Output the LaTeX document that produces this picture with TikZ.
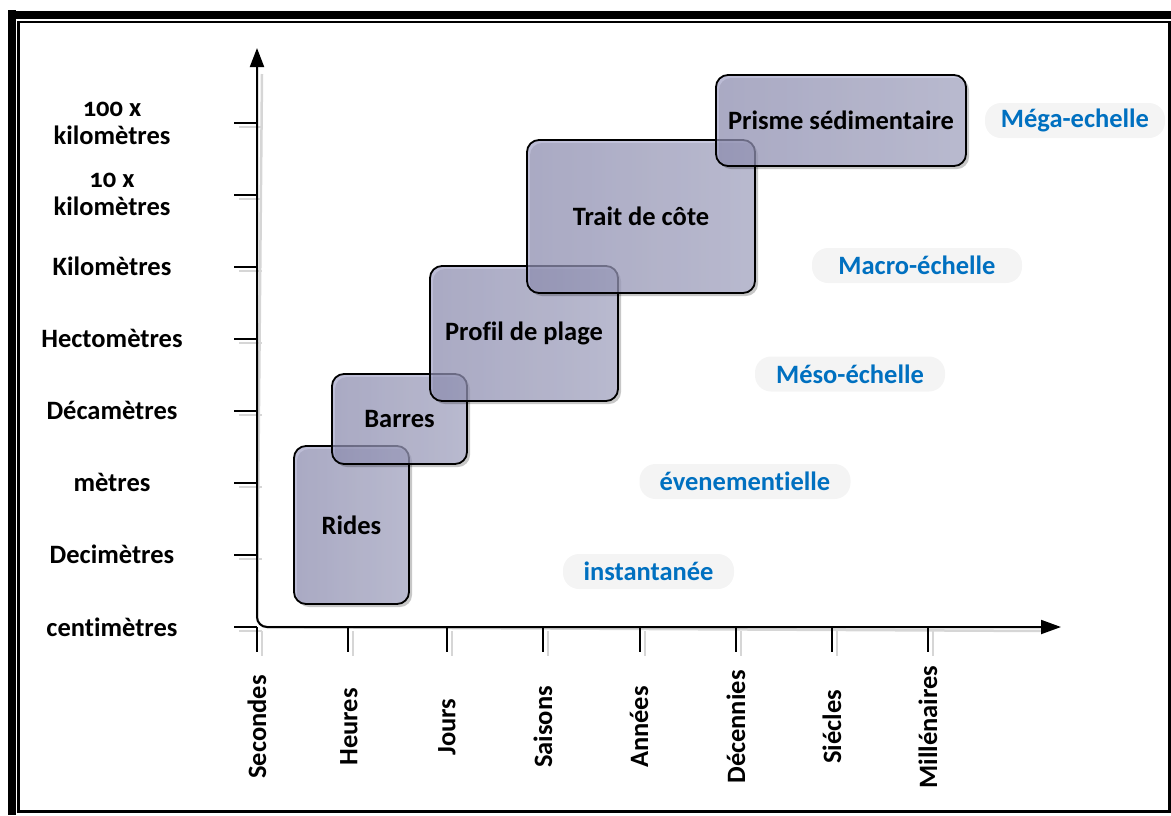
\documentclass[tikz,border=0pt]{standalone}
\usepackage{fontspec}
\setmainfont{Carlito}[Ligatures=NoCommon]
\usetikzlibrary{arrows.meta,shadows}
\definecolor{boxA}{RGB}{156,156,194}
\definecolor{boxB}{RGB}{178,179,210}
\definecolor{scaleblue}{RGB}{0,112,192}
\definecolor{pillgray}{RGB}{244,244,244}
\definecolor{shadowgray}{RGB}{214,214,214}
\begin{document}
\begin{tikzpicture}[x=1pt,y=-1pt,
  every node/.style={font=\fontsize{26.5}{28}\selectfont\bfseries},
  ylab/.style={align=center, inner sep=0pt},
  xlab/.style={rotate=90, inner sep=0pt},
  axisline/.style={line width=2pt, black},
  axisshadow/.style={line width=2.5pt, shadowgray},
  scalebox/.style={draw=black, line width=1.8pt, rounded corners=12pt,
    left color=boxA, right color=boxB, fill opacity=0.68, text opacity=1,
    drop shadow={shadow xshift=3pt, shadow yshift=-3pt, opacity=0.22, fill=black},
    inner sep=0pt},
  pill/.style={fill=pillgray, rounded corners=16pt, text=scaleblue,
    minimum height=35pt, inner sep=0pt},
]
\useasboundingbox (0,0) rectangle (1171,815);
% frame
\fill[black] (8,10) rectangle (16,815);
\fill[black] (8,11) rectangle (1171,19);
\draw[line width=2.5pt] (18.7,22) rectangle (1169.5,811.5);

% axes coordinates
\coordinate (ytop) at (257,48);
\coordinate (orig) at (257,627);
\coordinate (xend) at (1061,627);

% shadows of axes and ticks
\begin{scope}[shift={(5,4)}]
  \draw[axisshadow, rounded corners=10pt] (257,70) -- (orig) -- (1040,627);
  \foreach \yy in {123,195,267,339,411,483,555,627}
    \draw[axisshadow] (234,\yy) -- (257,\yy);
  \foreach \xx in {257,348,447,543,640,736,832,928}
    \draw[axisshadow] (\xx,627) -- (\xx,652);
\end{scope}

% ticks
\foreach \yy in {123,195,267,339,411,483,555,627}
  \draw[axisline] (234,\yy) -- (257,\yy);
\foreach \xx in {257,348,447,543,640,736,832,928}
  \draw[axisline] (\xx,627) -- (\xx,652);

% axes
\draw[axisline, rounded corners=10pt,
  {Triangle[width=14pt,length=19pt]}-{Triangle[width=14pt,length=20pt]}]
  (ytop) -- (orig) -- (xend);

% y labels
\node[ylab] (y1) at (112,123) {{\addfontfeatures{Numbers=OldStyle}100 x}\\kilomètres};
\node[ylab] (y2) at (112,194.5) {{\addfontfeatures{Numbers=OldStyle}10 x}\\kilomètres};
\node[ylab] (y3) at (112,266) {Kilomètres};
\node[ylab] (y4) at (112,338) {Hectomètres};
\node[ylab] (y5) at (112,410) {Décamètres};
\node[ylab] (y6) at (112,482) {mètres};
\node[ylab] (y7) at (112,554) {Decimètres};
\node[ylab] (y8) at (112,627) {centimètres};

% x labels
\node[xlab] (x1) at (257,727) {Secondes};
\node[xlab] (x2) at (349,727) {Heures};
\node[xlab] (x3) at (447,727) {Jours};
\node[xlab] (x4) at (543,727) {Saisons};
\node[xlab] (x5) at (639,727) {Années};
\node[xlab] (x6) at (736,727) {Décennies};
\node[xlab] (x7) at (832,727) {Siécles};
\node[xlab] (x8) at (928,727) {Millénaires};

% boxes
\node[scalebox, minimum width=115pt, minimum height=158pt] (rides) at (351.5,525) {Rides};
\node[scalebox, minimum width=135pt, minimum height=90pt] (barres) at (399.5,419) {Barres};
\node[scalebox, minimum width=188pt, minimum height=135pt] (profil) at (524,333.5) {Profil de plage};
\node[scalebox, minimum width=228pt, minimum height=153pt] (trait) at (641,216.5) {Trait de côte};
\node[scalebox, minimum width=250pt, minimum height=91pt] (prisme) at (841,120.5) {Prisme sédimentaire};

% scale pills
\node[pill, minimum width=180pt] (mega) at (1075,120.5) {Méga-echelle};
\node[pill, minimum width=210pt] (macro) at (917,265.5) {Macro-échelle};
\node[pill, minimum width=190pt] (meso) at (850,374) {Méso-échelle};
\node[pill, minimum width=211pt] (even) at (745,481.5) {évenementielle};
\node[pill, minimum width=171pt] (inst) at (648.5,571.5) {instantanée};
\end{tikzpicture}
\end{document}
